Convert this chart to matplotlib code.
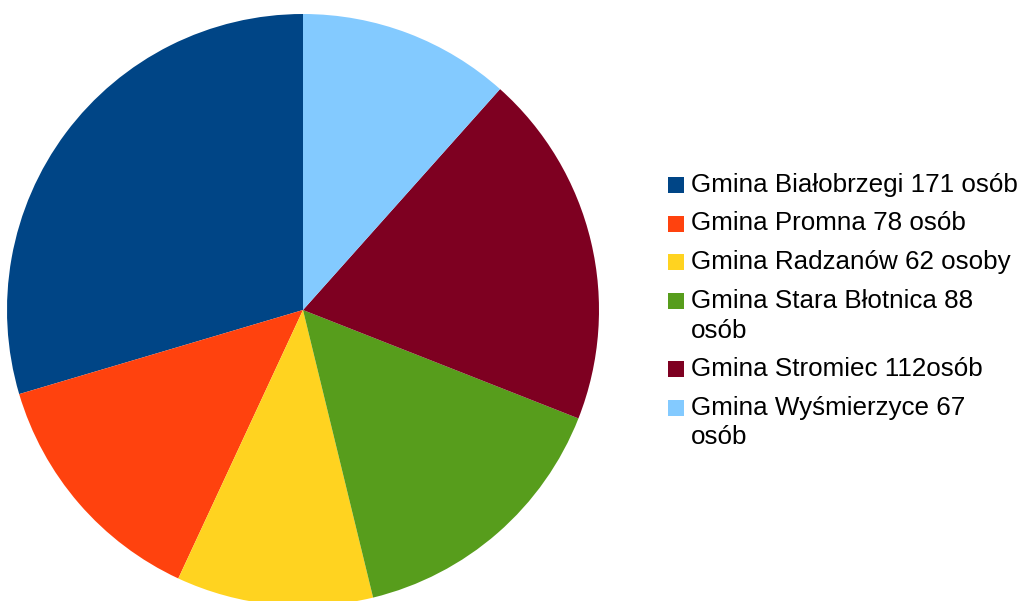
import matplotlib
matplotlib.use("Agg")
from matplotlib import pyplot as plt
from matplotlib.patches import Rectangle

plt.rcParams['font.family'] = ['Liberation Sans', 'DejaVu Sans']

# dane z wykresu
labels = ["Gmina Białobrzegi 171 osób", "Gmina Promna 78 osób", "Gmina Radzanów 62 osoby",
          "Gmina Stara Błotnica 88\nosób", "Gmina Stromiec 112osób", "Gmina Wyśmierzyce 67\nosób"]
values = [171, 78, 62, 88, 112, 67]
colors = ["#004586", "#ff420e", "#ffd320", "#579d1c", "#7e0021", "#83caff"]

W, H = 1023, 601
fig = plt.figure(figsize=(W / 100, H / 100), dpi=100)

# pie: center (303, 310) px, radius 296 px
cx, cy, r = 303, 310, 296
ax = fig.add_axes([(cx - r) / W, (H - cy - r) / H, 2 * r / W, 2 * r / H])
ax.pie(values, colors=colors, startangle=90, counterclock=True, radius=1,
       wedgeprops=dict(linewidth=0))
ax.set_xlim(-1, 1)
ax.set_ylim(-1, 1)
ax.set_aspect('equal')
ax.axis('off')

# legend drawn by hand
y = 185
for lab, col in zip(labels, colors):
    fig.patches.append(Rectangle(((668) / W, (H - y - 8) / H), 16 / W, 16 / H,
                                 transform=fig.transFigure, facecolor=col, edgecolor='none'))
    for i, line in enumerate(lab.split("\n")):
        fig.text(691 / W, (H - y - 30 * i) / H, line, fontsize=18.7, va='center', ha='left',
                 color='black')
    y += 38.5 + 30 * (lab.count("\n"))

fig.savefig("out.png", dpi=100)
